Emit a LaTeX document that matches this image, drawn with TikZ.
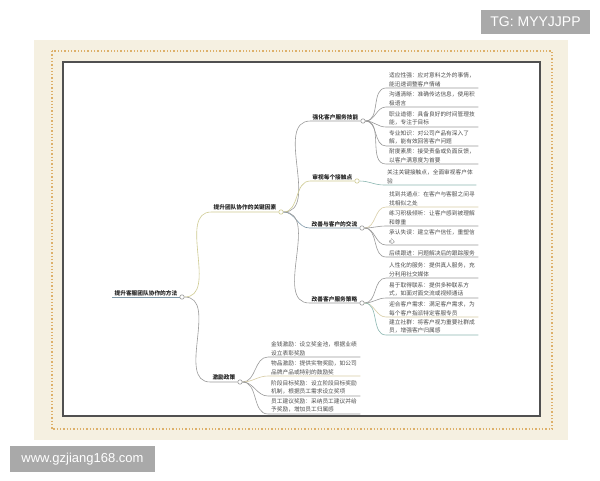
\documentclass[tikz,border=0pt]{standalone}
\usepackage{fontspec}
\setmainfont{Liberation Sans}
\newfontfamily\cjk{Noto Sans CJK SC}
\usepackage{tikz}

\definecolor{lnGray}{HTML}{9A9A9A}
\definecolor{lnOlive}{HTML}{CFCB92}
\definecolor{lnTeal}{HTML}{8DB8B2}
\definecolor{lnBlue}{HTML}{7E98A8}
\definecolor{lnSand}{HTML}{D8CDA6}
\definecolor{paper}{HTML}{F5F0E1}
\definecolor{dots}{HTML}{DDB06A}
\definecolor{frame}{HTML}{505050}
\definecolor{mark}{HTML}{A9A9A9}

\newcommand\leaffont{\cjk\fontsize{5.7}{8.3}\selectfont}
\newcommand\topicfont{\cjk\bfseries\fontsize{5.7}{7}\selectfont}

\begin{document}
\begin{tikzpicture}[x=1pt,y=-1pt,
  dot/.style={circle,draw=#1,fill=white,inner sep=0pt,minimum size=4.4pt,line width=0.6pt},
  topic/.style={anchor=south east,inner xsep=2pt,inner ysep=1.2pt,font=\topicfont,text=black!85},
  leaf/.style={anchor=south west,align=left,text width=86pt,inner xsep=3pt,inner ysep=1.2pt,font=\leaffont,text=black!70},
  branch/.style={draw=#1,line width=0.6pt},
  stamp/.style={fill=mark,text=white,inner sep=0pt}]

\useasboundingbox (0,0) rectangle (600,480);

% Paper and frame
\fill[paper] (34,40) rectangle (568,440);
\draw[dots,line width=1.3pt,dotted] (52,51) rectangle (552,429);
\draw[frame,line width=1.7pt,fill=white] (63,62) rectangle (540,416);

% Stamps
\node[stamp,minimum width=109pt,minimum height=24pt,font=\fontsize{14}{14}\selectfont] (T) at (535.5,22) {TG: MYYJJPP};
\node[stamp,minimum width=145pt,minimum height=26pt,font=\fontsize{13}{13}\selectfont] (W) at (82.5,459) {www.gzjiang168.com};

% Root
\node[dot=lnGray] (R0) at (182,297) {};
\node[topic] (R) at (R0.west) {提升客服团队协作的方法};
\draw[branch=lnBlue] (R.south west) -- (R0.west);

% Key factors
\node[dot=lnOlive] (K0) at (281,212) {};
\node[topic] (K) at (K0.west) {提升团队协作的关键因素};
\draw[branch=lnOlive] (R0.east) to[out=0,in=180] (K.south west) -- (K0.west);

% Incentives
\node[dot=lnGray] (E0) at (240,382) {};
\node[topic] (E) at (E0.west) {激励政策};
\draw[branch=lnGray] (R0.east) to[out=0,in=180] (E.south west) -- (E0.west);

% First branch
\node[dot=lnGray] (A0) at (363,121) {};
\node[topic] (A) at (A0.west) {强化客户服务技能};
\draw[branch=lnGray] (K0.east) to[out=0,in=180] (A.south west) -- (A0.west);

% Second branch
\node[dot=lnOlive] (B0) at (357,181) {};
\node[topic] (B) at (B0.west) {审视每个接触点};
\draw[branch=lnOlive] (K0.east) to[out=0,in=180] (B.south west) -- (B0.west);

% Third branch
\node[dot=lnGray] (C0) at (362,228) {};
\node[topic] (C) at (C0.west) {改善与客户的交流};
\draw[branch=lnBlue] (K0.east) to[out=0,in=180] (C.south west) -- (C0.west);

% Fourth branch
\node[dot=lnGray] (D0) at (362,303) {};
\node[topic] (D) at (D0.west) {改善客户服务策略};
\draw[branch=lnGray] (K0.east) to[out=0,in=180] (D.south west) -- (D0.west);

% Leaves of the first branch
\node[leaf] (A1) at (386,88) {适应性强：应对意料之外的事情，\\能迅速调整客户情绪};
\node[leaf] (A2) at (386,107) {沟通清晰：准确传达信息，使用积\\极语言};
\node[leaf] (A3) at (386,127) {职业道德：具备良好的时间管理技\\能，专注于目标};
\node[leaf] (A4) at (386,146) {专业知识：对公司产品有深入了\\解，能有效回答客户问题};
\node[leaf] (A5) at (386,164) {耐度素质：接受责备或负面反馈，\\以客户满意度为首要};
\draw[branch=lnGray] (A0.east) to[out=0,in=180] (A1.south west) -- (A1.south east);
\draw[branch=lnGray] (A0.east) to[out=0,in=180] (A2.south west) -- (A2.south east);
\draw[branch=lnGray] (A0.east) to[out=0,in=180] (A3.south west) -- (A3.south east);
\draw[branch=lnGray] (A0.east) to[out=0,in=180] (A4.south west) -- (A4.south east);
\draw[branch=lnGray] (A0.east) to[out=0,in=180] (A5.south west) -- (A5.south east);

% Leaf of the second branch
\node[leaf] (B1) at (384,185) {关注关键接触点，全面审视客户体\\验};
\draw[branch=lnTeal] (B0.east) to[out=0,in=180] (B1.south west) -- (B1.south east);

% Leaves of the third branch
\node[leaf] (C1) at (386,207) {找到共通点：在客户与客服之间寻\\找相似之处};
\node[leaf] (C2) at (386,226) {练习积极倾听：让客户感到被理解\\和尊重};
\node[leaf] (C3) at (386,245) {承认失误：建立客户信任，重塑信\\心};
\node[leaf] (C4) at (386,257) {后续跟进：问题解决后的跟踪服务};
\draw[branch=lnSand] (C0.east) to[out=0,in=180] (C1.south west) -- (C1.south east);
\draw[branch=lnGray] (C0.east) to[out=0,in=180] (C2.south west) -- (C2.south east);
\draw[branch=lnGray] (C0.east) to[out=0,in=180] (C3.south west) -- (C3.south east);
\draw[branch=lnGray] (C0.east) to[out=0,in=180] (C4.south west) -- (C4.south east);

% Leaves of the fourth branch
\node[leaf] (D1) at (386,278) {人性化的服务：提供真人服务，充\\分利用社交媒体};
\node[leaf] (D2) at (386,298) {易于取得联系：提供多种联系方\\式，如面对面交流或视频通话};
\node[leaf] (D3) at (386,317) {迎合客户需求：满足客户需求，为\\每个客户指派特定客服专员};
\node[leaf] (D4) at (386,335) {建立社群：将客户视为重要社群成\\员，增强客户归属感};
\draw[branch=lnGray] (D0.east) to[out=0,in=180] (D1.south west) -- (D1.south east);
\draw[branch=lnGray] (D0.east) to[out=0,in=180] (D2.south west) -- (D2.south east);
\draw[branch=lnSand] (D0.east) to[out=0,in=180] (D3.south west) -- (D3.south east);
\draw[branch=lnTeal] (D0.east) to[out=0,in=180] (D4.south west) -- (D4.south east);

% Leaves of the incentives
\node[leaf] (E1) at (268,357) {金钱激励：设立奖金池，根据业绩\\设立表彰奖励};
\node[leaf] (E2) at (268,376) {物品激励：提供实物奖励，如公司\\品牌产品或特别的鼓励奖};
\node[leaf] (E3) at (268,396) {阶段目标奖励：设立阶段目标奖励\\机制，根据员工需求设立奖项};
\node[leaf] (E4) at (268,414) {员工建议奖励：采纳员工建议并给\\予奖励，增加员工归属感};
\draw[branch=lnGray] (E0.east) to[out=0,in=180] (E1.south west) -- (E1.south east);
\draw[branch=lnSand] (E0.east) to[out=0,in=180] (E2.south west) -- (E2.south east);
\draw[branch=lnGray] (E0.east) to[out=0,in=180] (E3.south west) -- (E3.south east);
\draw[branch=lnGray] (E0.east) to[out=0,in=180] (E4.south west) -- (E4.south east);

\end{tikzpicture}
\end{document}
